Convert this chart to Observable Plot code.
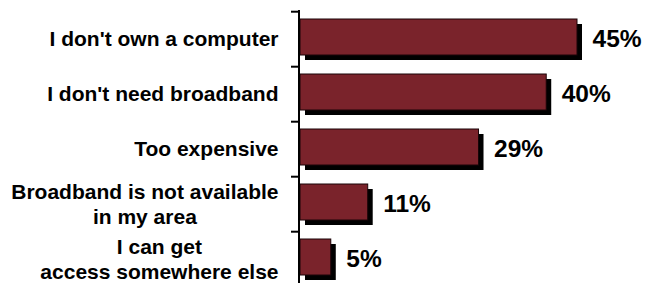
<!DOCTYPE html>
<html><head><meta charset="utf-8">
<script src="https://cdn.jsdelivr.net/npm/d3@7"></script>
<script src="https://cdn.jsdelivr.net/npm/@observablehq/plot@0.6"></script>
<style>
html,body{margin:0;padding:0;background:#fff;overflow:hidden;}
#chart svg{display:block;}
</style></head><body><div id="chart"></div>
<script>
const categories = [
  "I don't own a computer",
  "I don't need broadband",
  "Too expensive",
  "Broadband is not available\nin my area",
  "I can get\naccess somewhere else"
];
const values = [45, 40, 29, 11, 5];
const valueLabels = ["45%", "40%", "29%", "11%", "5%"];

const data = categories.map((c, i) => ({category: c, value: values[i], label: valueLabels[i]}));
const barColor = "#7a232b";
const font = "Arial, 'Liberation Sans', sans-serif";
const labelSize = 21;
const labelGap = 22;
const lineStep = 25;

const ctx = document.createElement("canvas").getContext("2d");
ctx.font = `bold ${labelSize}px Arial, "Liberation Sans", sans-serif`;
const textWidth = s => ctx.measureText(s).width;

// one text mark per label line: lines are centred on each other, each block right-aligned
const labelMarks = [];
for (const d of data) {
  const lines = d.category.split("\n");
  const w = Math.max(...lines.map(textWidth));
  lines.forEach((line, j) => {
    labelMarks.push(Plot.text([d], {
      y: "category", text: () => line, frameAnchor: "left", textAnchor: "middle",
      dx: -labelGap - w / 2, dy: (j - (lines.length - 1) / 2) * lineStep,
      fontSize: labelSize, fontWeight: "bold", fill: "#000"
    }));
  });
}

const plot = Plot.plot({
  width: 664, height: 288,
  marginLeft: 300, marginRight: 87, marginTop: 10, marginBottom: 0,
  style: {fontFamily: font, background: "#fff", overflow: "visible"},
  x: {domain: [0, 45], axis: null},
  y: {domain: categories, paddingInner: 0.34, paddingOuter: 0.17, axis: null},
  marks: [
    Plot.barX(data, {x: "value", y: "category", fill: "#000", dx: 5, dy: 3}),
    Plot.barX(data, {x: "value", y: "category", fill: barColor, stroke: "#1a0508", strokeWidth: 1, dy: -2}),
    Plot.text(data, {x: "value", y: "category", text: "label", textAnchor: "start", dx: 15,
      fontSize: 24.5, fontWeight: "bold", fill: "#000"}),
    ...labelMarks,
    Plot.axisY({tickSize: 7, tickFormat: () => "", label: null, dy: -27.8, dx: -2, strokeWidth: 2}),
    Plot.ruleX([0], {dx: -1.5, strokeWidth: 2, stroke: "#000"})
  ]
});
document.getElementById("chart").appendChild(plot);
</script></body></html>
